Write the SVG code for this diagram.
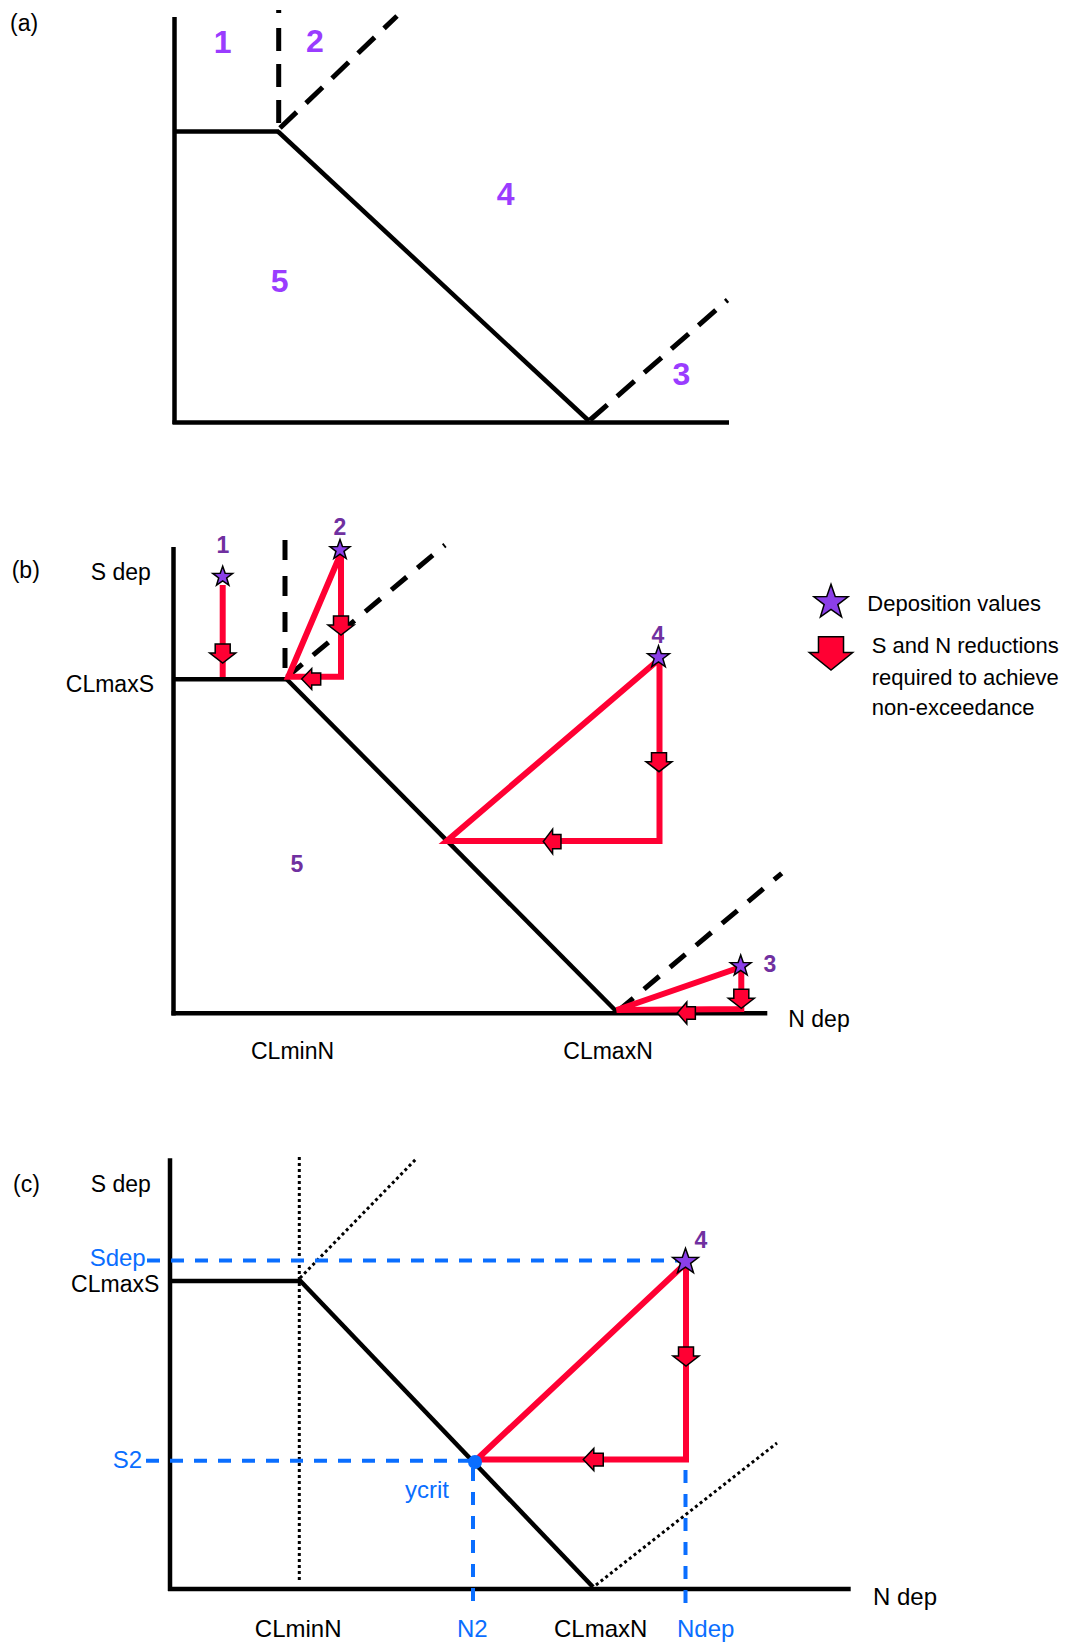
<svg xmlns="http://www.w3.org/2000/svg" xmlns:xlink="http://www.w3.org/1999/xlink" width="1075" height="1642" viewBox="0 0 1075 1642">
<style>
  .ax { stroke:#000; stroke-width:4.5; fill:none; stroke-linecap:butt; }
  .dash { stroke:#000; stroke-width:5; fill:none; stroke-dasharray:22 14; }
  .dot { stroke:#000; stroke-width:3; fill:none; stroke-dasharray:3 3; }
  .red { stroke:#FF0033; stroke-width:6; fill:none; stroke-linejoin:miter; }
  .blue { stroke:#0A6EFF; stroke-width:4; fill:none; stroke-dasharray:13 11; }
  .lab { font-family:"Liberation Sans", Arial, sans-serif; font-size:23px; fill:#000; }
  .labc { font-family:"Liberation Sans", Arial, sans-serif; font-size:24px; fill:#000; }
  .leg { font-family:"Liberation Sans", Arial, sans-serif; font-size:22px; fill:#000; }
  .bl { font-family:"Liberation Sans", Arial, sans-serif; font-size:24px; fill:#0A6EFF; }
  .na { font-family:"Liberation Sans", Arial, sans-serif; font-size:32px; font-weight:bold; fill:#9A3CFF; text-anchor:middle; }
  .nb { font-family:"Liberation Sans", Arial, sans-serif; font-size:23px; font-weight:bold; fill:#7030A0; text-anchor:middle; }
</style>
<defs>
  <polygon id="star" points="0,-10 2.35,-3.24 9.51,-3.09 3.8,1.24 5.88,8.09 0,4 -5.88,8.09 -3.8,1.24 -9.51,-3.09 -2.35,-3.24" fill="#8B3FE8" stroke="#000" stroke-width="1.5" vector-effect="non-scaling-stroke"/>
  <path id="arr" d="M -7.5,-19 H 7.5 V -10 H 13 L 0,0 L -13,-10 H -7.5 Z" fill="#FF0033" stroke="#000" stroke-width="1.5" vector-effect="non-scaling-stroke"/>
</defs>

<!-- Panel (a) -->
<g id="panel-a">
  <text class="lab" x="10" y="31" font-size="22">(a)</text>
  <g id="a-lines">
    <line class="ax" x1="174.5" y1="17" x2="174.5" y2="424"/>
    <line class="ax" x1="172.5" y1="422.5" x2="729" y2="422.5"/>
    <line class="ax" x1="174.5" y1="131.5" x2="279" y2="131.5"/>
    <line class="ax" x1="278" y1="131.5" x2="589" y2="421"/>
    <line class="dash" x1="278.7" y1="10" x2="278.7" y2="128" style="stroke-dasharray:3 15 23 13 23 13 23 13"/>
    <line class="dash" x1="280" y1="128" x2="397" y2="16" style="stroke-dasharray:23 13"/>
    <line class="dash" x1="590" y1="420" x2="727.5" y2="300" style="stroke-dasharray:23 13"/>
  </g>
  <text class="na" x="222.7" y="52.7">1</text>
  <text class="na" x="315" y="51.7">2</text>
  <text class="na" x="505.7" y="205">4</text>
  <text class="na" x="279.6" y="291.7">5</text>
  <text class="na" x="681.5" y="385">3</text>
</g>

<!-- Panel (b) -->
<g id="panel-b">
  <text class="lab" x="11.7" y="578">(b)</text>
  <text class="lab" x="90.7" y="580">S dep</text>
  <text class="lab" x="154" y="691.7" text-anchor="end">CLmaxS</text>
  <text class="lab" x="251" y="1059">CLminN</text>
  <text class="lab" x="563.3" y="1059">CLmaxN</text>
  <text class="lab" x="788.3" y="1026.7">N dep</text>
  <g id="b-lines">
    <line class="ax" x1="173.5" y1="547" x2="173.5" y2="1015.5"/>
    <line class="ax" x1="171.5" y1="1013.3" x2="767.3" y2="1013.3"/>
    <line class="ax" x1="173.5" y1="679.3" x2="287" y2="679.3"/>
    <line class="ax" x1="286" y1="678.5" x2="617" y2="1012"/>
    <line class="dash" x1="285" y1="540" x2="285" y2="679" style="stroke-dasharray:20 16"/>
    <line class="dash" x1="287" y1="677" x2="445" y2="545" style="stroke-dasharray:20 14"/>
    <line class="dash" x1="618" y1="1011" x2="781.7" y2="873.3" style="stroke-dasharray:20 14"/>
  </g>
  <text class="nb" x="297" y="872">5</text>
  <g id="b-point-1">
    <line class="red" x1="222.7" y1="585" x2="222.7" y2="677"/>
    <use xlink:href="#arr" href="#arr" transform="translate(222.7,663)"/>
    <use xlink:href="#star" href="#star" transform="translate(222.7,576.7) scale(1.05)"/>
    <text class="nb" x="223" y="553">1</text>
  </g>
  <g id="b-point-2">
    <polygon class="red" points="288.3,676.7 341,553 341,676.7"/>
    <use xlink:href="#arr" href="#arr" transform="translate(341,635)"/>
    <use xlink:href="#arr" href="#arr" transform="translate(301.7,679) rotate(90) scale(0.8,1)"/>
    <use xlink:href="#star" href="#star" transform="translate(340,550) scale(1.05)"/>
    <text class="nb" x="340" y="535">2</text>
  </g>
  <g id="b-point-4">
    <polygon class="red" points="446.7,841 659.5,659 659.5,841"/>
    <use xlink:href="#arr" href="#arr" transform="translate(659,771.7)"/>
    <use xlink:href="#arr" href="#arr" transform="translate(543.3,841.5) rotate(90) scale(0.95,0.93)"/>
    <use xlink:href="#star" href="#star" transform="translate(658.5,657.3) scale(1.15)"/>
    <text class="nb" x="658" y="643">4</text>
  </g>
  <g id="b-point-3">
    <polygon class="red" points="616.7,1010 741.3,967 741.3,1009"/>
    <use xlink:href="#arr" href="#arr" transform="translate(741.3,1008.3)"/>
    <use xlink:href="#arr" href="#arr" transform="translate(677.3,1013) rotate(90) scale(0.85,0.95)"/>
    <use xlink:href="#star" href="#star" transform="translate(740.7,966) scale(1.1)"/>
    <text class="nb" x="770" y="971.7">3</text>
  </g>
</g>

<!-- Legend -->
<g id="legend">
  <g id="legend-star">
    <use xlink:href="#star" href="#star" transform="translate(831,602.3) scale(1.8)"/>
    <text class="leg" x="867.3" y="610.7">Deposition values</text>
  </g>
  <g id="legend-arrow">
    <use xlink:href="#arr" href="#arr" transform="translate(831,670) scale(1.67,1.75)"/>
    <text class="leg" x="871.7" y="653.3">S and N reductions</text>
    <text class="leg" x="871.7" y="685">required to achieve</text>
    <text class="leg" x="871.7" y="715">non-exceedance</text>
  </g>
</g>

<!-- Panel (c) -->
<g id="panel-c">
  <text class="lab" x="13" y="1191.7">(c)</text>
  <text class="lab" x="90.7" y="1191.7">S dep</text>
  <text class="bl" x="145.7" y="1266" text-anchor="end">Sdep</text>
  <text class="lab" x="159.3" y="1291.7" text-anchor="end">CLmaxS</text>
  <text class="bl" x="142" y="1468" text-anchor="end">S2</text>
  <text class="bl" x="405" y="1498">ycrit</text>
  <text class="labc" x="254.8" y="1637">CLminN</text>
  <text class="bl" x="457" y="1637">N2</text>
  <text class="labc" x="554" y="1637">CLmaxN</text>
  <text class="bl" x="677" y="1637">Ndep</text>
  <text class="labc" x="873" y="1605">N dep</text>
  <g id="c-lines">
    <line class="ax" x1="170" y1="1158.3" x2="170" y2="1591"/>
    <line class="ax" x1="168" y1="1589" x2="850.7" y2="1589"/>
    <line class="ax" x1="170" y1="1281" x2="300.5" y2="1281"/>
    <line class="ax" x1="299.5" y1="1280" x2="593" y2="1587"/>
    <line class="dot" x1="299.3" y1="1157" x2="299.3" y2="1582"/>
    <line class="dot" x1="300" y1="1278" x2="416.7" y2="1158.3"/>
    <line class="dot" x1="596" y1="1585" x2="777" y2="1443"/>
  </g>
  <g id="c-guides">
    <line class="blue" x1="147" y1="1260.5" x2="680" y2="1260.5"/>
    <line class="blue" x1="146" y1="1460.7" x2="475" y2="1460.7"/>
    <line class="blue" x1="473" y1="1468" x2="473" y2="1604"/>
    <line class="blue" x1="685.5" y1="1470" x2="685.5" y2="1612"/>
  </g>
  <g id="c-point-4">
    <polygon class="red" points="476.7,1459.5 686,1263 686,1459.5"/>
    <use xlink:href="#arr" href="#arr" transform="translate(686,1366)"/>
    <use xlink:href="#arr" href="#arr" transform="translate(583.3,1459.5) rotate(90) scale(0.85,1.05)"/>
    <use xlink:href="#star" href="#star" transform="translate(685.5,1261.7) scale(1.35)"/>
    <text class="nb" x="701" y="1248.3">4</text>
  </g>
  <circle id="ycrit-point" cx="475" cy="1462" r="7" fill="#0A6EFF"/>
</g>
</svg>
